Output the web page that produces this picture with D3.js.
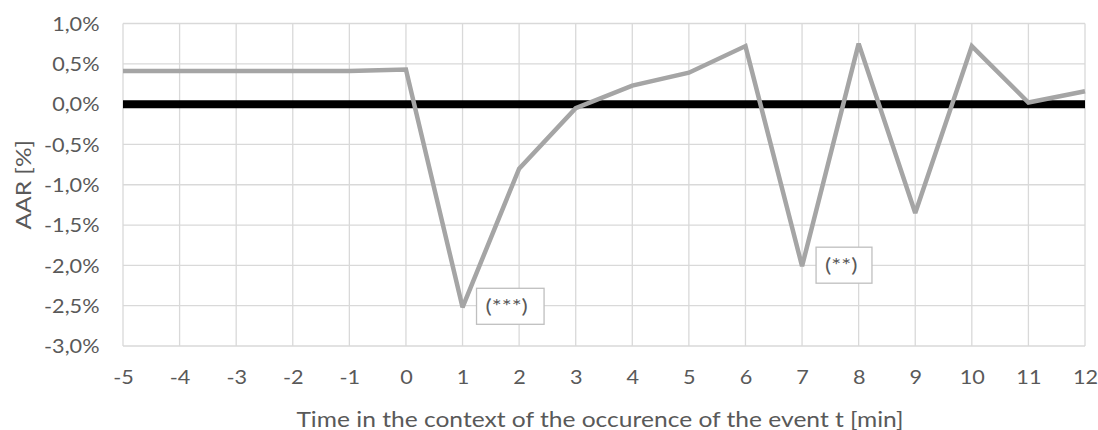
<!DOCTYPE html>
<html><head><meta charset="utf-8">
<script src="https://cdn.jsdelivr.net/npm/d3@7/dist/d3.min.js"></script>
<style>html,body{margin:0;padding:0;background:#fff;}svg{display:block;}</style>
</head><body>
<svg id="c" width="1098" height="430"></svg>
<script>
const times = [-5,-4,-3,-2,-1,0,1,2,3,4,5,6,7,8,9,10,11,12];
const aar = [0.41,0.41,0.41,0.41,0.41,0.43,-2.52,-0.80,-0.05,0.23,0.39,0.72,-2.01,0.75,-1.35,0.72,0.02,0.16];
const yTicks = [1.0,0.5,0.0,-0.5,-1.0,-1.5,-2.0,-2.5,-3.0];
const annotations = [{t:1, label:"(***)"},{t:7, label:"(**)"}];
const xTitle = "Time in the context of the occurence of the event t [min]";
const yTitle = "AAR [%]";

const svg = d3.select("#c");
const m = {l:123, r:1085, t:23.5, b:346};
const x = d3.scaleLinear().domain([-5,12]).range([m.l, m.r]);
const y = d3.scaleLinear().domain([-3,1]).range([m.b, m.t]);
const font = "Lato, 'Open Sans', sans-serif";
const txt = "#595959";
const K = 1.17; // horizontal stretch of glyphs seen in the reference

function stretch(sel){
  sel.each(function(){
    const w = this.getComputedTextLength();
    this.setAttribute("textLength", w*K);
    this.setAttribute("lengthAdjust", "spacingAndGlyphs");
  });
}

// grid
const g = svg.append("g");
g.selectAll("line.h").data(yTicks).join("line")
  .attr("x1", m.l).attr("x2", m.r).attr("y1", d=>y(d)).attr("y2", d=>y(d))
  .attr("stroke", "#d9d9d9").attr("stroke-width", 1.3);
g.selectAll("line.v").data(times).join("line")
  .attr("y1", m.t).attr("y2", m.b).attr("x1", d=>x(d)).attr("x2", d=>x(d))
  .attr("stroke", "#d9d9d9").attr("stroke-width", 1.3);

// axes labels via d3 axes
const fmt = d => d3.format(".1f")(d).replace(".", ",").replace("−","-") + "%";
const ya = svg.append("g").attr("transform", `translate(${m.l},0)`)
  .call(d3.axisLeft(y).tickValues(yTicks).tickFormat(fmt).tickSize(0).tickPadding(23.5));
ya.select(".domain").remove();
ya.selectAll("text").attr("font-family", font).attr("font-size", 18.5).attr("fill", txt)
  .attr("dy", null).attr("y", 6.8).call(stretch);

const xa = svg.append("g").attr("transform", `translate(0,${m.b})`)
  .call(d3.axisBottom(x).tickValues(times).tickFormat(d => String(d)).tickSize(0));
xa.select(".domain").remove();
xa.selectAll("text").attr("font-family", font).attr("font-size", 18.5).attr("fill", txt)
  .attr("dy", null).attr("y", 38).call(stretch);

// zero line
svg.append("line").attr("x1", m.l).attr("x2", m.r).attr("y1", y(0)).attr("y2", y(0))
  .attr("stroke", "#000").attr("stroke-width", 8);

// data line
const line = d3.line().x((d,i)=>x(times[i])).y(d=>y(d));
svg.append("path").datum(aar).attr("d", line).attr("fill","none")
  .attr("stroke", "#a5a5a5").attr("stroke-width", 4.5).attr("stroke-linejoin","miter").attr("stroke-miterlimit", 2);

// annotations
annotations.forEach(a => {
  const i = times.indexOf(a.t);
  const px = x(a.t), py = y(aar[i]);
  const grp = svg.append("g");
  const t = grp.append("text").text(a.label).attr("font-family", font).attr("font-size", 20)
    .attr("fill", txt).attr("y", py - 1 + 7);
  stretch(t);
  const w = t.node().getComputedTextLength() * K;
  const bx = px + 14, bw = w + 18;
  t.attr("x", bx + 9);
  grp.insert("rect","text").attr("x", bx).attr("y", py - 19).attr("width", bw).attr("height", 36)
    .attr("fill","#fff").attr("stroke","#bfbfbf").attr("stroke-width",1.3);
});

// titles
svg.append("text").text(xTitle).attr("x", (m.l+m.r)/2 - 4).attr("y", 426.5)
  .attr("text-anchor","middle").attr("font-family", font).attr("font-size", 21).attr("fill", txt).call(stretch);
svg.append("text").text(yTitle).attr("transform", `translate(31,${(m.t+m.b)/2}) rotate(-90)`)
  .attr("text-anchor","middle").attr("font-family", font).attr("font-size", 21).attr("fill", txt).call(stretch);
</script>
</body></html>
